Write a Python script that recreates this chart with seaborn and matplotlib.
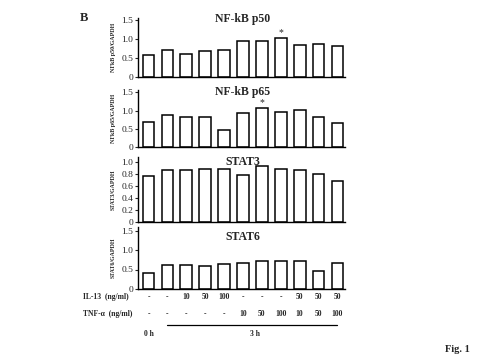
import matplotlib
matplotlib.use("Agg")
import matplotlib.pyplot as plt
import matplotlib.transforms as mtrans
import pandas as pd
import seaborn as sns

# valores
lanes = list(range(11))
p50 = [0.57, 0.71, 0.61, 0.69, 0.71, 0.94, 0.96, 1.03, 0.84, 0.87, 0.81]
p65 = [0.69, 0.89, 0.81, 0.83, 0.47, 0.92, 1.06, 0.96, 1.02, 0.81, 0.67]
stat3 = [0.76, 0.86, 0.87, 0.88, 0.89, 0.78, 0.94, 0.88, 0.86, 0.80, 0.68]
stat6 = [0.42, 0.61, 0.62, 0.59, 0.65, 0.67, 0.71, 0.71, 0.71, 0.47, 0.66]
il13 = ['-', '-', '10', '50', '100', '-', '-', '-', '50', '50', '50']
tnf = ['-', '-', '-', '-', '-', '10', '50', '100', '10', '50', '100']

sns.set_style("white")
plt.rcParams['font.family'] = ['Liberation Serif', 'DejaVu Serif']

fig = plt.figure(figsize=(4.8, 3.6), dpi=100)
W, H = 480, 360

# (titulo, ylabel, valores, y do zero em px, px por unidade, ylim topo, ticks, y do titulo, estrela)
paineis = [
    ('NF-kB p50', 'NFkB p50/GAPDH', p50, 77, 38.0, 1.55, [0, 0.5, 1.0, 1.5], 1.52, 7),
    ('NF-kB p65', 'NFkB p65/GAPDH', p65, 147, 36.5, 1.55, [0, 0.5, 1.0, 1.5], 1.52, 6),
    ('STAT3', 'STAT3/GAPDH', stat3, 222, 60.0, 1.08, [0, 0.2, 0.4, 0.6, 0.8, 1.0], 1.0, None),
    ('STAT6', 'STAT6/GAPDH', stat6, 289, 39.0, 1.58, [0, 0.5, 1.0, 1.5], 1.33, None),
]

x0, x1 = 138, 345
axes = []
for titulo, ylab, vals, yzero, ppu, ytop, ticks, ytit, estrela in paineis:
    hpx = ytop * ppu
    ax = fig.add_axes([x0 / W, 1 - yzero / H, (x1 - x0) / W, hpx / H])
    df = pd.DataFrame({'lane': lanes, 'val': vals})
    sns.barplot(data=df, x='lane', y='val', ax=ax, color='white',
                edgecolor='black', linewidth=1.1, width=0.62, errorbar=None)
    ax.set_xlim(-0.56, 10.4)
    ax.set_ylim(0, ytop)
    ax.set_yticks(ticks)
    ax.set_yticklabels(['0' if t == 0 else f'{t:.1f}' for t in ticks], fontsize=6.8)
    ax.set_xticks([])
    ax.set_xlabel('')
    ax.set_ylabel(ylab, fontsize=4.3, fontweight='bold', labelpad=4)
    for s in ['top', 'right']:
        ax.spines[s].set_visible(False)
    for s in ['left', 'bottom']:
        ax.spines[s].set_color('black')
        ax.spines[s].set_linewidth(1.0)
    ax.tick_params(axis='y', length=2.5, width=0.8, pad=1, direction='out', left=True)
    ax.text(5.0, ytit, titulo, ha='center', va='center', fontsize=8.5, fontweight='bold', clip_on=False)
    if estrela is not None:
        ax.text(estrela, vals[estrela] + 0.03, '*', ha='center', va='bottom', fontsize=7)
    axes.append(ax)

ax = axes[-1]
tr = mtrans.blended_transform_factory(ax.transData, fig.transFigure)
fig.text(83 / W, 1 - 297 / H, 'IL-13  (ng/ml)', fontsize=5.5, fontweight='bold', va='center')
fig.text(83 / W, 1 - 314 / H, 'TNF-α  (ng/ml)', fontsize=5.5, fontweight='bold', va='center')
for i in lanes:
    ax.text(i, 1 - 297 / H, il13[i], transform=tr, ha='center', va='center',
            fontsize=5.5, fontweight='bold')
    ax.text(i, 1 - 314 / H, tnf[i], transform=tr, ha='center', va='center',
            fontsize=5.5, fontweight='bold')
ax.plot([0.97, 10.0], [1 - 325 / H] * 2, transform=tr, color='black', lw=0.9, clip_on=False)
ax.text(0, 1 - 334 / H, '0 h', transform=tr, ha='center', va='center', fontsize=5.5, fontweight='bold')
ax.text(5.65, 1 - 334 / H, '3 h', transform=tr, ha='center', va='center', fontsize=5.5, fontweight='bold')

fig.text(80 / W, 1 - 18 / H, 'B', fontsize=9, fontweight='bold', va='center')
fig.text(445 / W, 1 - 350 / H, 'Fig. 1', fontsize=7.5, fontweight='bold', va='center')

fig.savefig('out.png', dpi=100)
